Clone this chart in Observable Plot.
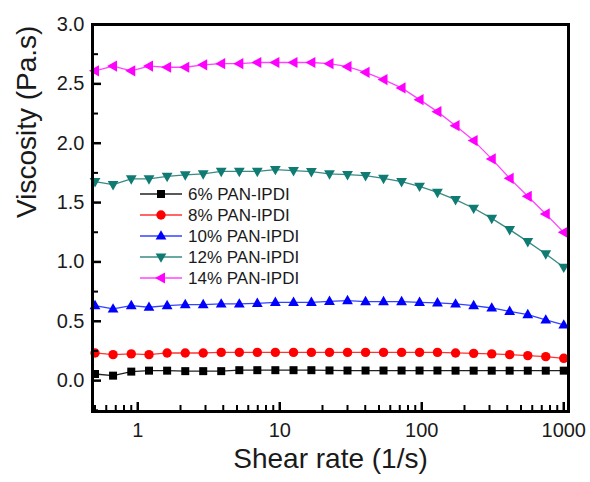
<!DOCTYPE html>
<html><head><meta charset="utf-8">
<script src="https://cdn.jsdelivr.net/npm/d3@7"></script>
<script src="https://cdn.jsdelivr.net/npm/@observablehq/plot@0.6"></script>
<style>
body{margin:0;background:#fff;font-family:"Liberation Sans",Arial,sans-serif}
#wrap{position:relative;width:590px;height:482px}
#legend{position:absolute;left:0;top:0}
</style></head>
<body><div id="wrap"></div>
<script>
// Shear rate (1/s)
const shearRate = [0.5, 0.67, 0.9, 1.2, 1.61, 2.16, 2.89, 3.87, 5.19, 6.95, 9.31, 12.5, 16.7, 22.4, 30.0, 40.2, 53.8, 72.1, 96.5, 129, 173, 232, 311, 416, 558, 747, 1000];
const seriesNames = ["6% PAN-IPDI", "8% PAN-IPDI", "10% PAN-IPDI", "12% PAN-IPDI", "14% PAN-IPDI"];
// Viscosity (Pa.s)
const v6  = [0.056, 0.042, 0.076, 0.084, 0.084, 0.080, 0.080, 0.080, 0.088, 0.088, 0.088, 0.088, 0.088, 0.086, 0.085, 0.085, 0.085, 0.085, 0.085, 0.085, 0.084, 0.084, 0.084, 0.084, 0.084, 0.084, 0.084];
const v8  = [0.233, 0.219, 0.225, 0.219, 0.233, 0.233, 0.233, 0.238, 0.238, 0.238, 0.238, 0.238, 0.238, 0.238, 0.238, 0.238, 0.238, 0.238, 0.238, 0.238, 0.233, 0.230, 0.225, 0.219, 0.211, 0.202, 0.188];
const v10 = [0.632, 0.604, 0.632, 0.618, 0.632, 0.640, 0.640, 0.646, 0.646, 0.651, 0.660, 0.660, 0.660, 0.668, 0.674, 0.666, 0.666, 0.666, 0.660, 0.655, 0.646, 0.632, 0.612, 0.584, 0.556, 0.511, 0.469];
const v12 = [1.676, 1.651, 1.699, 1.699, 1.721, 1.733, 1.741, 1.763, 1.763, 1.763, 1.778, 1.769, 1.761, 1.741, 1.735, 1.727, 1.704, 1.676, 1.637, 1.586, 1.525, 1.452, 1.367, 1.272, 1.171, 1.067, 0.955];
const v14 = [2.61, 2.65, 2.61, 2.65, 2.64, 2.64, 2.66, 2.67, 2.67, 2.68, 2.68, 2.68, 2.68, 2.67, 2.645, 2.597, 2.536, 2.466, 2.367, 2.266, 2.148, 2.022, 1.868, 1.704, 1.553, 1.404, 1.249];
const yMajorTicks = [0, 0.5, 1.0, 1.5, 2.0, 2.5, 3.0];
const yMinorTicks = [-0.25, 0.25, 0.75, 1.25, 1.75, 2.25, 2.75];
const xMajorTicks = [1, 10, 100, 1000];
const xMinorTicks = [0.5, 0.6, 0.7, 0.8, 0.9, 2, 3, 4, 5, 6, 7, 8, 9, 20, 30, 40, 50, 60, 70, 80, 90, 200, 300, 400, 500, 600, 700, 800, 900];

const colors = ["#000000", "#ff0000", "#0000ff", "#0f7b73", "#ff00ff"];
const lineColors = ["#222222", "#ff3333", "#3344ff", "#3a8a84", "#ff44ff"];

const symbols = [
  {draw(c, s) { const k = Math.sqrt(s / Math.PI) / 5, a = 4 * k; c.rect(-a, -a, 2 * a, 2 * a); }},
  {draw(c, s) { const R = 4.7 * Math.sqrt(s / Math.PI) / 5; c.moveTo(R, 0); c.arc(0, 0, R, 0, 2 * Math.PI); }},
  {draw(c, s) { const k = Math.sqrt(s / Math.PI) / 5; c.moveTo(0, -5.8 * k); c.lineTo(5.4 * k, 3.6 * k); c.lineTo(-5.4 * k, 3.6 * k); c.closePath(); }},
  {draw(c, s) { const k = Math.sqrt(s / Math.PI) / 5; c.moveTo(0, 5.8 * k); c.lineTo(5.4 * k, -3.6 * k); c.lineTo(-5.4 * k, -3.6 * k); c.closePath(); }},
  {draw(c, s) { const k = Math.sqrt(s / Math.PI) / 5; c.moveTo(-6 * k, 0); c.lineTo(4 * k, -5.6 * k); c.lineTo(4 * k, 5.6 * k); c.closePath(); }}
];

const allValues = [v6, v8, v10, v12, v14];
const data = allValues.flatMap((vals, si) => vals.map((v, i) => ({x: shearRate[i], y: v, s: si})));

const seriesMarks = allValues.flatMap((vals, si) => {
  const d = data.filter(e => e.s === si);
  return [
    Plot.line(d, {x: "x", y: "y", stroke: lineColors[si], strokeWidth: 1.3}),
    Plot.dot(d, {x: "x", y: "y", r: 5, symbol: () => symbols[si], fill: colors[si], stroke: "none"})
  ];
});

const W = 590, H = 482, mL = 92, mR = 22, mT = 24, mB = 71;
const fw = W - mL - mR, fh = H - mT - mB;
const font = "Liberation Sans, Arial, Helvetica, sans-serif";
const chart = Plot.plot({
  width: W, height: H,
  marginLeft: mL, marginRight: mR, marginTop: mT, marginBottom: mB,
  style: {fontFamily: font, color: "#1a1a1a", background: "white", overflow: "visible"},
  x: {type: "log", domain: [0.48, 1080], axis: null},
  y: {domain: [-0.26, 3.0], axis: null},
  symbol: {type: "identity"},
  marks: [
    ...seriesMarks,
    Plot.axisY(yMajorTicks, {anchor: "left", tickSize: 0, tickPadding: 8, fontSize: 20, tickFormat: d3.format(".1f"), label: null}),
    Plot.ruleY(yMajorTicks, {insetRight: fw - 9, stroke: "black", strokeWidth: 2.5}),
    Plot.ruleY(yMinorTicks, {insetRight: fw - 6, stroke: "black", strokeWidth: 2}),
    Plot.axisX(xMajorTicks, {anchor: "bottom", tickSize: 0, tickPadding: 11, fontSize: 20, tickFormat: d => String(d), label: null}),
    Plot.ruleX(xMajorTicks, {insetTop: fh - 9, stroke: "black", strokeWidth: 2.5}),
    Plot.ruleX(xMinorTicks, {insetTop: fh - 6, stroke: "black", strokeWidth: 2}),
    Plot.frame({stroke: "black", strokeWidth: 3}),
    Plot.text(["Shear rate (1/s)"], {frameAnchor: "bottom", dy: 56, fontSize: 28, fill: "#1a1a1a"}),
    Plot.text(["Viscosity (Pa.s)"], {frameAnchor: "left", dx: -65, rotate: -90, fontSize: 28, fill: "#1a1a1a"})
  ]
});
const wrap = document.getElementById("wrap");
wrap.appendChild(chart);

// Legend
const svg = d3.select(wrap).append("svg").attr("id", "legend").attr("width", W).attr("height", H);
seriesNames.forEach((name, i) => {
  const y = 194 + i * 21;
  const g = svg.append("g").attr("transform", `translate(0,${y})`);
  g.append("line").attr("x1", 140).attr("x2", 182).attr("y1", 0).attr("y2", 0).attr("stroke", lineColors[i]).attr("stroke-width", 1.3);
  const p = d3.path();
  symbols[i].draw(p, 25 * Math.PI);
  g.append("path").attr("d", p.toString()).attr("transform", "translate(161,0)").attr("fill", colors[i]);
  g.append("text").attr("x", 188).attr("y", 0).attr("dy", "0.35em").attr("font-size", 17).attr("font-family", font).attr("fill", "#1a1a1a").text(name);
});
</script>
</body></html>
